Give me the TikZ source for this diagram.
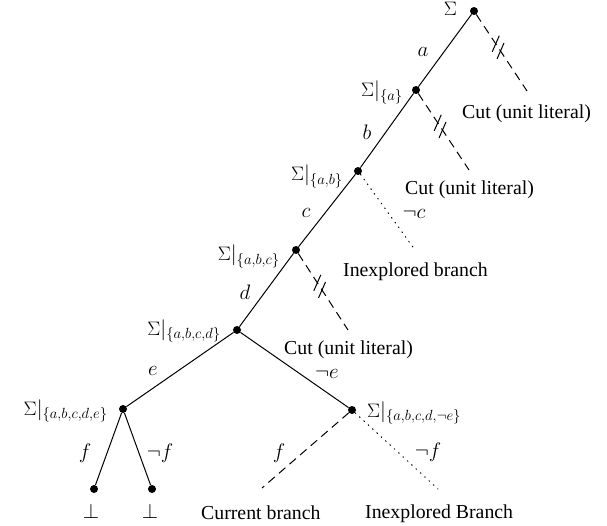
\RequirePackage{fix-cm}
\documentclass[tikz,border=0pt]{standalone}
\usepackage[no-math]{fontspec}
\setmainfont{Liberation Serif}
\usetikzlibrary{calc}
\newcommand{\Sg}{\hbox{\fontsize{19.5}{20}\selectfont$\Sigma$}}
\newcommand{\cutmarks}[2]{%
  \draw[br] ($(#1)!0.41!(#2)$) ++(-3.5,8) -- ++(7,-16);
  \draw[br] ($(#1)!0.50!(#2)$) ++(-3.5,8) -- ++(7,-16);}
\begin{document}
\begin{tikzpicture}[x=1pt,y=-1pt,
  font=\fontsize{21}{25}\selectfont,
  dot/.style={circle,fill,inner sep=0pt,minimum size=8pt},
  lbl/.style={inner sep=0pt},
  txt/.style={inner sep=0pt,font=\fontsize{19.8}{24}\selectfont},
  br/.style={line width=1pt},
  cutbr/.style={line width=1pt,dash pattern=on 8.5pt off 5.5pt},
  unexp/.style={line width=1pt,dash pattern=on 0.9pt off 5pt,line cap=round}]
\useasboundingbox (0,0) rectangle (607,526);
% nodes
\node[dot] (r) at (474,11) {};
\node[dot] (a) at (416,90) {};
\node[dot] (ab) at (358,171) {};
\node[dot] (abc) at (296,250) {};
\node[dot] (abcd) at (237,330) {};
\node[dot] (abcde) at (123,409) {};
\node[dot] (ne) at (352,410) {};
\node[dot] (l1) at (94,489) {};
\node[dot] (l2) at (152,489) {};
\coordinate (c1) at (527,91);
\coordinate (c2) at (469,170);
\coordinate (c3) at (348,330);
\coordinate (u1) at (415,250);
\coordinate (cur) at (262,488);
\coordinate (u2) at (438,489);
% edges
\draw[br] (r) -- (a) -- (ab) -- (abc) -- (abcd);
\draw[br] (abcd) -- (abcde);
\draw[br] (abcd) -- (ne);
\draw[br] (abcde) -- (l1);
\draw[br] (abcde) -- (l2);
\draw[cutbr] (r) -- (c1);
\draw[cutbr] (a) -- (c2);
\draw[cutbr] (abc) -- (c3);
\cutmarks{r}{c1}
\cutmarks{a}{c2}
\cutmarks{abc}{c3}
\draw[unexp] (ab) -- (u1);
\draw[cutbr] (ne) -- (cur);
\draw[unexp] (ne) -- (u2);
% node labels
\node[lbl,anchor=base east] (tr) at (457,16) {$\Sg$};
\node[lbl,anchor=base east] (ta) at (403,97) {$\Sg|_{\{a\}}$};
\node[lbl,anchor=base east] (tab) at (343,181) {$\Sg|_{\{a,b\}}$};
\node[lbl,anchor=base east] (tabc) at (280,261) {$\Sg|_{\{a,b,c\}}$};
\node[lbl,anchor=base east] (tabcd) at (221,335) {$\Sg|_{\{a,b,c,d\}}$};
\node[lbl,anchor=base east] (tabcde) at (108,415) {$\Sg|_{\{a,b,c,d,e\}}$};
\node[lbl,anchor=base west] (tne) at (367,417) {$\Sg|_{\{a,b,c,d,\neg e\}}$};
% edge labels
\node[lbl] (ea) at (423,52) {$a$};
\node[lbl] (eb) at (367,132) {$b$};
\node[lbl] (ec) at (306,213) {$c$};
\node[lbl] (enc) at (414,214) {$\neg c$};
\node[lbl] (ed) at (245,292) {$d$};
\node[lbl] (ee) at (153,371) {$e$};
\node[lbl] (ene) at (327,374) {$\neg e$};
\node[lbl] (ef1) at (85,453) {$f$};
\node[lbl] (enf1) at (160,453) {$\neg f$};
\node[lbl] (ef2) at (279,453) {$f$};
\node[lbl] (enf2) at (428,452) {$\neg f$};
\node[lbl] (b1) at (91,511) {$\bot$};
\node[lbl] (b2) at (150,511) {$\bot$};
% texts
\node[txt,anchor=base west] (t1) at (462,119) {Cut (unit literal)};
\node[txt,anchor=base west] (t2) at (405,195) {Cut (unit literal)};
\node[txt,anchor=base west] (t3) at (343,277) {Inexplored branch};
\node[txt,anchor=base west] (t4) at (284,354) {Cut (unit literal)};
\node[txt,anchor=base west] (t5) at (201,519) {Current branch};
\node[txt,anchor=base west] (t6) at (365,518) {Inexplored Branch};
\end{tikzpicture}
\end{document}
